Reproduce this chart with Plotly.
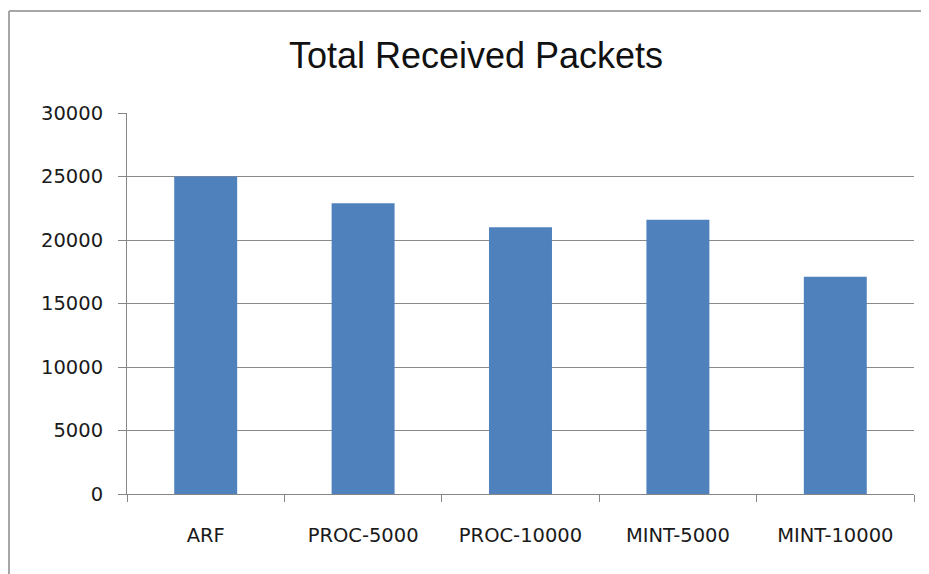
import plotly.graph_objects as go

# data
categories = ['ARF', 'PROC-5000', 'PROC-10000', 'MINT-5000', 'MINT-10000']
received = [25000, 22900, 21000, 21600, 17100]
y_ticks = [0, 5000, 10000, 15000, 20000, 25000, 30000]

# page body adds an 8px margin, so the figure is sized to fit the window
W, H = 921, 566
L, R, T, B = 119, 15, 105, 80
pw, ph = W - L - R, H - T - B

tick_font = dict(family='DejaVu Sans', size=19.5, color='#1a1a1a')

fig = go.Figure()
fig.add_trace(go.Bar(
    x=categories,
    y=received,
    marker=dict(color='#4F81BD', line=dict(width=0)),
    showlegend=False
))

fig.update_xaxes(
    showgrid=False,
    showline=True,
    linecolor='#868686',
    linewidth=1,
    ticks='outside',
    tickson='boundaries',
    ticklen=7,
    tickcolor='#868686',
    tickfont=tick_font,
    ticklabelstandoff=24,
    zeroline=False
)
fig.update_yaxes(
    range=[0, 30000],
    tickvals=y_ticks,
    ticktext=[str(v) for v in y_ticks],
    showgrid=True,
    gridcolor='#8a8a8a',
    gridwidth=1,
    showline=True,
    linecolor='#868686',
    linewidth=1,
    ticks='outside',
    ticklen=8,
    tickcolor='#868686',
    tickfont=tick_font,
    ticklabelstandoff=11,
    zeroline=False
)

# outer chart frame: only the top and left edges are visible in the reference
frame_left = (1 - L) / pw
frame_top = (H - B - 3) / ph
frame = dict(color='#a6a6a6', width=2)
fig.add_shape(type='line', xref='paper', yref='paper',
              x0=frame_left, x1=(W + 10 - L) / pw, y0=frame_top, y1=frame_top,
              line=frame, layer='below')
fig.add_shape(type='line', xref='paper', yref='paper',
              x0=frame_left, x1=frame_left, y0=-(B + 10) / ph, y1=frame_top,
              line=frame, layer='below')

fig.update_layout(
    width=W,
    height=H,
    title=dict(
        text='Total Received Packets',
        x=(468 - L) / pw, xref='paper', xanchor='center',
        y=1 - 47 / H, yanchor='middle',
        font=dict(family='Liberation Sans', size=36, color='#111')
    ),
    bargap=0.6,
    plot_bgcolor='white',
    paper_bgcolor='white',
    margin=dict(l=L, r=R, t=T, b=B),
)

fig.write_html('out.html')
